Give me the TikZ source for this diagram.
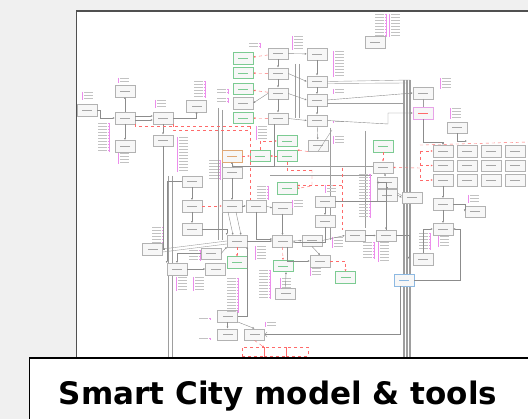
\documentclass[tikz,border=0pt]{standalone}
\usepackage{fontspec}
\newfontfamily\capfont{DejaVu Sans}
\usetikzlibrary{arrows.meta,shadows}
\definecolor{bgc}{HTML}{F0F0F0}
\definecolor{panelc}{HTML}{505050}
\definecolor{grn}{HTML}{7CCB92}
\definecolor{orng}{HTML}{E0A875}
\definecolor{pnk}{HTML}{E7A3E7}
\definecolor{blu}{HTML}{8DB9E2}
\definecolor{redl}{HTML}{FF6A6A}
\definecolor{mag}{HTML}{E040E0}
\newcommand\attrR[3]{% magenta tick at x, text to the right
  \draw[mag!60,line width=0.3pt] (#1,-#2-2) -- (#1,-#2-#3*3-1);
  \foreach \i in {1,...,#3}{\fill[mag!60] (#1,-#2-\i*3-0.3) rectangle ++(1.2,1);
    \fill[black!24] (#1+2.2,-#2-\i*3) rectangle ++(9,0.6);}}
\newcommand\attrL[3]{% text to the left, magenta tick at x
  \draw[mag!60,line width=0.3pt] (#1,-#2-2) -- (#1,-#2-#3*3-1);
  \foreach \i in {1,...,#3}{\fill[mag!60] (#1-1.2,-#2-\i*3-0.3) rectangle ++(1.2,1);
    \fill[black!24] (#1-11.2,-#2-\i*3) rectangle ++(9,0.6);}}
\tikzset{
  basebox/.style={minimum width=20pt,minimum height=11.5pt,inner sep=0pt,fill=black!3,
    drop shadow={shadow xshift=0.6pt,shadow yshift=-0.6pt,opacity=.25}},
  cls/.style={basebox,draw=black!30,path picture={\fill[black!35]
    ([xshift=-5pt,yshift=-0.35pt]path picture bounding box.center) rectangle
    ([xshift=5pt,yshift=0.35pt]path picture bounding box.center);}},
  gcls/.style={basebox,draw=grn,line width=0.5pt,path picture={\fill[grn]
    ([xshift=-5pt,yshift=-0.35pt]path picture bounding box.center) rectangle
    ([xshift=5pt,yshift=0.35pt]path picture bounding box.center);}},
  ocls/.style={basebox,draw=orng,path picture={\fill[orng]
    ([xshift=-5pt,yshift=-0.35pt]path picture bounding box.center) rectangle
    ([xshift=5pt,yshift=0.35pt]path picture bounding box.center);}},
  pcls/.style={basebox,draw=pnk,path picture={\fill[redl]
    ([xshift=-5pt,yshift=-0.35pt]path picture bounding box.center) rectangle
    ([xshift=5pt,yshift=0.35pt]path picture bounding box.center);}},
  bcls/.style={basebox,draw=blu,line width=0.5pt,path picture={\fill[blu]
    ([xshift=-5pt,yshift=-0.35pt]path picture bounding box.center) rectangle
    ([xshift=5pt,yshift=0.35pt]path picture bounding box.center);}},
  rcls/.style={draw=redl,dashed,line width=0.4pt,minimum width=22pt,minimum height=9pt,inner sep=0pt},
  ln/.style={draw=black!45,line width=0.4pt,-{Latex[length=2pt,width=2pt]}},
  ln0/.style={draw=black!38,line width=0.4pt},
  rln/.style={draw=redl,dashed,line width=0.4pt,-{Latex[length=2pt,width=2pt]}},
  rln0/.style={draw=redl,dashed,line width=0.4pt},
  capbox/.style={draw=black,line width=1.3pt,fill=white,inner sep=0pt,minimum width=520pt,minimum height=70pt,anchor=north west},
  captxt/.style={anchor=base,inner sep=0pt,font=\capfont\bfseries\fontsize{31}{36}\selectfont},
}
\begin{document}
\begin{tikzpicture}[x=1pt,y=1pt]
\useasboundingbox (0,0) rectangle (528,-419);
\fill[bgc] (0,0) rectangle (528,-419);
\filldraw[fill=white,draw=panelc,line width=1.3pt] (76.5,-11) rectangle (545,-380);

% ---------- background bundles ----------
\foreach \xx in {403,404.5,406,407.5,409,410.5}{\draw[ln0] (\xx,-80) -- (\xx,-357);}
\foreach \xx in {168.5,172}{\draw[ln0] (\xx,-176) -- (\xx,-357);}
\draw[ln0] (222,-110) -- (222,-240);
\draw[ln0] (218,-108) -- (218,-240);
\draw[ln0] (330,-128) -- (330,-240);
\draw[ln0] (365,-131) -- (365,-228);
\draw[ln0] (299,-64) -- (299,-118);
\draw[ln0] (295,-64) -- (295,-118);
\draw[ln0] (163,-150) -- (163,-240);
\draw[ln0] (270,-166) -- (380,-166);
\draw[ln0] (270,-175) -- (372,-175);

% ---------- top ----------
\node[cls] (P0) at (375,-42) {};
\attrL{386}{12}{8} \attrR{389}{12}{8}

% ---------- green column & centre ----------
\node[gcls] (G1) at (243,-58.5) {};
\node[gcls] (G2) at (243,-73) {};
\node[gcls] (G3) at (243,-89) {};
\node[cls]  (G4) at (243,-103) {};
\node[gcls] (G5) at (243,-118) {};
\node[cls] (c1) at (278,-53.5) {};
\node[cls] (c2) at (278,-73.5) {};
\node[cls] (c3) at (278,-93.5) {};
\node[cls] (c4) at (278,-118.5) {};
\node[cls] (r1) at (317,-54) {};
\node[cls] (r2) at (317,-81.5) {};
\node[cls] (r3) at (317,-100) {};
\node[cls] (r4) at (317,-120.5) {};
\node[cls] (r5) at (318,-145.5) {};
\attrR{292}{34}{5} \attrL{260}{41}{2}
\attrR{333}{49}{9} \attrR{333}{87}{2} \attrR{333}{119}{1} \attrR{333}{134}{3}
\attrL{228}{87}{2} \attrL{228}{96}{2}
\attrR{256}{124}{5}

% ---------- left cluster ----------
\node[cls] (L0) at (87,-110) {};
\node[cls] (L1) at (125,-91) {};
\node[cls] (L2) at (125,-118) {};
\node[cls] (L3) at (125,-146) {};
\node[cls] (L4) at (163,-118) {};
\node[cls] (L5) at (163,-140.5) {};
\node[cls] (L6) at (196.5,-106) {};
\attrR{118}{76}{2} \attrR{82}{90}{3} \attrL{109}{121}{10}
\attrR{118}{151}{4} \attrR{155}{98}{3} \attrL{205}{79}{6} \attrR{177}{135}{12}

% ---------- middle ----------
\node[gcls] (M1) at (287,-141) {};
\node[gcls] (M2) at (260,-156) {};
\node[gcls] (M3) at (287,-156) {};
\node[ocls] (M4) at (232,-156) {};
\node[cls]  (M5) at (232,-172.5) {};
\node[gcls] (M6) at (287,-188.5) {};
\node[cls] (M7) at (192,-181.5) {};
\node[cls] (M8) at (192,-206) {};
\node[cls] (M9) at (192,-229) {};
\node[cls] (M10) at (232,-206) {};
\node[cls] (M11) at (256,-206) {};
\node[cls] (M12) at (282.5,-208) {};
\node[cls] (M13) at (325,-201.5) {};
\node[cls] (M14) at (325,-221) {};
\node[cls] (M15) at (152.5,-249) {};
\node[cls] (M16) at (237,-241) {};
\node[cls] (M17) at (282.5,-241) {};
\node[cls] (M18) at (312,-240.5) {};
\node[cls] (M19) at (355,-235.5) {};
\node[cls] (M20) at (386,-235.5) {};
\node[cls] (M21) at (211,-253.5) {};
\node[gcls] (M22) at (237,-262.5) {};
\node[gcls] (M23) at (283,-266) {};
\node[cls] (M24) at (320,-261) {};
\node[gcls] (M25) at (345.5,-277.5) {};
\node[cls] (M26) at (177,-269) {};
\node[cls] (M27) at (215.5,-269) {};
\node[cls] (M28) at (285.5,-293.5) {};
\node[cls] (M29) at (227.5,-316) {};
\node[cls] (M30) at (227.5,-334.5) {};
\node[cls] (M31) at (254.5,-334.5) {};
\node[rcls] (R1) at (253,-352) {};
\node[rcls] (R2) at (275,-352) {};
\node[rcls] (R3) at (297,-352) {};
\attrL{220}{158}{7}
\attrL{268}{184}{5} \attrR{325}{183}{3} \attrR{292}{198}{3}
\attrL{163}{225}{6} \attrL{370}{172}{15}
\attrR{332}{235}{4} \attrL{374}{240}{6} \attrR{378}{240}{7}
\attrR{255}{244}{5} \attrL{200}{248}{4}
\attrR{176}{275}{5} \attrR{193}{275}{5} \attrL{238}{276}{12}
\attrL{270}{268}{10} \attrR{280}{276}{4} \attrR{310}{266}{3}
\attrL{210}{316}{1} \attrL{210}{336}{1} \attrR{265}{320}{2}

% ---------- right ----------
\node[gcls] (X1) at (383,-146.5) {};
\node[cls] (X2) at (383,-167.5) {};
\node[cls] (X3) at (387,-182.5) {};
\node[cls] (X4) at (387,-195) {};
\node[cls] (X5) at (412,-197.5) {};
\node[cls] (X6) at (423,-93) {};
\node[pcls] (X7) at (423,-113) {};
\node[cls] (X8) at (457,-127.5) {};
\foreach \c/\xx in {A/443,B/467,C/491,D/515}{
  \foreach \r/\yy in {1/151,2/165.5,3/180}{\node[cls] (g\c\r) at (\xx,-\yy) {};}}
\node[cls] (X9) at (443,-204) {};
\node[cls] (X10) at (475,-211.5) {};
\node[cls] (X11) at (443,-229) {};
\node[cls] (X12) at (423,-259) {};
\node[bcls] (X13) at (404,-280.5) {};
\attrR{440}{76}{4} \attrR{450}{106}{4} \attrR{468}{193}{3}
\attrL{430}{231}{6} \attrR{438}{234}{4}

% ---------- connectors ----------
\coordinate (k0) at (100,-110);
\draw[ln] (L0.east) -- (k0) |- (L2.west);
\draw[ln] (L2) -- (L1);
\draw[ln] (L2) -- (L3);
\draw[ln] ([yshift=2pt]L2.east) -- ([yshift=2pt]L4.west);
\draw[ln] ([yshift=-2pt]L2.east) -- ([yshift=-2pt]L4.west);
\draw[ln] (L4) -- (L5);
\draw[ln] (L4.east) -| (L6.south);
\coordinate (k1) at (250,-126);
\draw[rln0] (L2.south east) |- (k1);
\coordinate (k2) at (250,-130);
\draw[rln0] (L4.south east) |- (k2);
\draw[rln0] (k1) -- (250,-200);
\draw[ln] (L5.south) |- (M15.east);

\draw[rln] (c1) -- (G1);
\draw[rln] (c2) -- (G2);
\draw[rln] (c3) -- (G3);
\draw[ln] (c3.west) -- (G4.east);
\draw[rln] (c4) -- (G5);
\draw[ln] (c1) -- (c2);
\draw[ln] (c2) -- (c3);
\draw[ln] (c3) -- (c4);
\draw[ln] (c1) -- (r1);
\draw[ln] (r1) -- (r2);
\draw[ln] (r2) -- (r3);
\draw[ln] (r3) -- (r4);
\draw[ln] (r4) -- (r5);
\draw[ln] (c2.east) -- (r2.west);
\draw[ln] (c3.east) -- (r3.west);
\draw[ln] (c4.east) -- (r4.west);
\draw[ln] ([xshift=-4pt]c4.south) -- ([xshift=-4pt]c4.south |- M5.north) -- (M5.north);
\coordinate (k3) at (410,-80);
\draw[ln0] (r2.east) -- (k3);
\coordinate (k3b) at (408,-83);
\draw[ln0] ([yshift=-2pt]r2.east) -- (k3b);
\draw[ln] (r3.east) -- (X6.west);
\coordinate (k4) at (404,-103);
\draw[ln0] ([yshift=-3pt]r3.east) -- (k4);
\coordinate (k5) at (388,-124);
\draw[ln] (r4.east) -- (k5) |- (X7.west);
\draw[ln] (X7.south) |- ([yshift=3pt]gA1.north) -- (gA1.north);
\draw[ln] (X8.south) |- ([yshift=4pt]gB1.north);
\draw[ln0] (X6) -- (X7);
\coordinate (k6) at (332,-130);
\draw[ln0] (r5.south) -- (k6);

\draw[rln] (M2.north) |- (M1.west);
\draw[rln] (r5.south west) -- (M3.north east);
\draw[rln] (M3.west) -- (M2.east);
\draw[rln] (M4.east) -- (M2.west);
\draw[ln] (M5) -- (M4);
\draw[ln] (M5.south) -- (M10.north);
\coordinate (k7) at (312,-170);
\draw[rln0] (M3.south) |- (k7);
\draw[rln] (k7) -- (312,-186) -- (M6.east);
\coordinate (k8) at (342,-168);
\draw[rln] (k8) |- ([yshift=3pt]M6.east);
\draw[rln0] (k8) -- (342,-230);
\draw[ln] (M7) -- (M8);
\draw[ln] (M8) -- (M9);
\draw[rln] (M8) -- (M10);
\draw[ln] (M10) -- (M11);
\draw[ln] (M11.east) -- (M12.west);
\draw[ln] (M13) -- (M14);
\draw[ln] (M12.south) -- (M17.north);
\draw[ln] ([xshift=-4pt]M10.south) -- ([xshift=-4pt]M16.north);
\draw[ln] ([xshift=4pt]M10.south) -- ([xshift=4pt]M16.north);
\draw[ln] (M11.south) |- ([yshift=2pt]M17.west);
\draw[ln] (M14.south) |- ([yshift=-1pt]M17.east);
\draw[ln0] (M15.east) -- (M16.west);
\draw[ln0] ([yshift=-3pt]M15.east) -- ([yshift=-3pt]M16.west);
\draw[ln] (M16.east) -- (M17.west);
\draw[ln] (M17.east) -- (M18.west);
\draw[ln] (M18.east) -- (M19.west);
\draw[ln] (M19.east) -- (M20.west);
\draw[ln] (M13.east) -| (M20.north);
\draw[ln] (M9.east) -| (M16.north west);
\draw[rln] (M16.south) -- (M22.north);
\draw[rln] (M17.south) -- (M23.north);
\draw[rln] (M24.east) -| (M25.north);
\draw[ln] (M18.south) -- (M24.north);
\draw[ln] ([xshift=5pt]M17.south) |- (M24.west);
\draw[ln] (M26.east) -- (M27.west);
\draw[ln] (M21.west) -| (M26.north);
\draw[ln] (M7.west) -| (M26.north west);
\draw[ln] (M21.east) -- (M16.south west);
\draw[ln] (M28.north) -- ([xshift=3pt]M23.south);
\draw[ln] (M29.east) -| (M16.south east);
\draw[ln] (M29) -- (M30);
\draw[ln] (M29.south east) -- (M31.north);
\draw[rln] (M31.south) -- (R1.north east);
\draw[ln,<-] (M31.east) -| ([xshift=-4pt]X13.south);

\draw[rln] (X1) -- (X2);
\draw[ln] (X2) -- (X3);
\draw[ln] (X3) -- (X4);
\draw[ln] (X4.east) -- (X5.west);
\draw[ln0] ([yshift=2pt]X4.east) -- ([yshift=2pt]X5.west);
\coordinate (k9) at (420,-168);
\draw[rln] (k9) -- (X2.east);
\draw[rln0] (gA1.west -| k9) -- (k9) -- (gA3.west -| k9);
\draw[rln] (gA1.west -| k9) -- (gA1.west);
\draw[rln] (gA2.west -| k9) -- (gA2.west);
\draw[rln] (gA3.west -| k9) -- (gA3.west);
\coordinate (k10) at (528,-142);
\draw[rln0] (gA1.north west -| k9) -- (k10);
\draw[ln] (gA3) -- (X9);
\draw[ln] (X9) -- (X11);
\draw[ln] (X9.east) -| (X10.west);
\draw[ln] (X12.north) |- (X11.west);
\coordinate (k11) at (460,-280.5);
\draw[ln] (X13.east) -- (k11) |- (X11.east);
\draw[ln] (M20.east) -| ([xshift=-4pt]X12.west);
\draw[ln] (M20.north) |- (X3.west);

% ---------- caption ----------
\node[capbox] (cap) at (28.5,-357.5) {};
\node[captxt] (capt) at (278,-405) {Smart City model \& tools};
\end{tikzpicture}
\end{document}
